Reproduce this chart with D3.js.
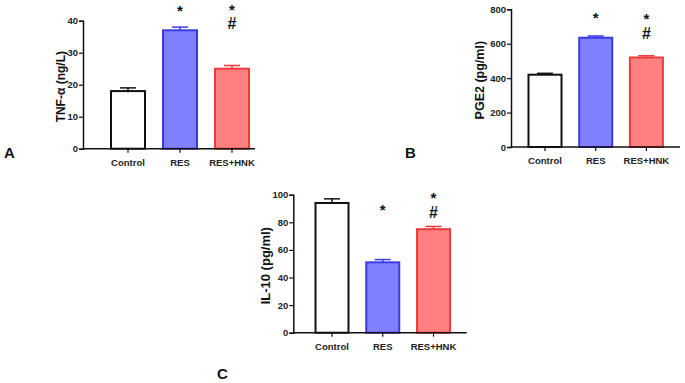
<!DOCTYPE html>
<html>
<head>
<meta charset="utf-8">
<script src="https://cdn.jsdelivr.net/npm/d3@7"></script>
<style>
  html, body { margin: 0; padding: 0; background: #fff; }
  svg { display: block; font-family: "Liberation Sans", Arial, sans-serif; font-weight: bold; }
</style>
</head>
<body>
<svg id="chart" width="685" height="383"></svg>
<script>
// ---------- data ----------
const categories = ["Control", "RES", "RES+HNK"];

const tnfValues = [18, 37, 25];
const tnfErrors = [1, 1, 1];
const tnfTicks = [0, 10, 20, 30, 40];

const pgeValues = [420, 635, 520];
const pgeErrors = [8, 10, 10];
const pgeTicks = [0, 200, 400, 600, 800];

const il10Values = [94, 51, 75];
const il10Errors = [3, 2, 2];
const il10Ticks = [0, 20, 40, 60, 80, 100];

const tnfMarks = [[], ["*"], ["*", "#"]];
const pgeMarks = [[], ["*"], ["*", "#"]];
const il10Marks = [[], ["*"], ["*", "#"]];

// ---------- styles ----------
const fills = ["#ffffff", "#8080ff", "#ff8080"];
const strokes = ["#111111", "#3a3ae6", "#ec3b3b"];
const FONT = "'Liberation Sans', Arial, sans-serif";

const svg = d3.select("#chart");

function panel(cfg) {
  const g = svg.append("g");
  const y = d3.scaleLinear().domain([cfg.ticks[0], cfg.ticks[cfg.ticks.length - 1]])
    .range([cfg.y0, cfg.yTop]);
  const pIn = 1 - cfg.bw / cfg.step;
  const x = d3.scaleBand().domain(categories)
    .range([cfg.c0 - cfg.step / 2, cfg.c0 + 2.5 * cfg.step])
    .paddingInner(pIn).paddingOuter(pIn / 2);

  // bars
  g.selectAll("rect.bar").data(cfg.values).join("rect")
    .attr("x", (d, i) => x(categories[i]))
    .attr("y", d => y(d))
    .attr("width", x.bandwidth())
    .attr("height", d => y(0) - y(d))
    .attr("fill", (d, i) => fills[i])
    .attr("stroke", (d, i) => strokes[i])
    .attr("stroke-width", 2);

  // error bars (upper only)
  const capW = 16;
  cfg.values.forEach((v, i) => {
    const cx = x(categories[i]) + x.bandwidth() / 2;
    g.append("line").attr("x1", cx).attr("x2", cx)
      .attr("y1", y(v)).attr("y2", y(v + cfg.errors[i]))
      .attr("stroke", strokes[i]).attr("stroke-width", 1.5);
    g.append("line").attr("x1", cx - capW / 2).attr("x2", cx + capW / 2)
      .attr("y1", y(v + cfg.errors[i])).attr("y2", y(v + cfg.errors[i]))
      .attr("stroke", strokes[i]).attr("stroke-width", 1.5);
  });

  // y axis
  const ya = g.append("g").attr("transform", `translate(${cfg.axisX},0)`)
    .call(d3.axisLeft(y).tickValues(cfg.ticks).tickSize(4).tickPadding(1).tickFormat(d3.format("d")));
  ya.select(".domain").attr("stroke", "#111").attr("stroke-width", 1.5);
  ya.selectAll(".tick line").attr("stroke", "#111").attr("stroke-width", 1.2);
  ya.selectAll(".tick text").attr("fill", "#222").style("font-size", "9.5px")
    .style("font-family", FONT).style("font-weight", "bold");

  // x axis
  const xa = g.append("g").attr("transform", `translate(0,${cfg.y0})`)
    .call(d3.axisBottom(x).tickSize(4).tickPadding(0));
  xa.select(".domain").remove();
  xa.selectAll(".tick line").attr("stroke", "#111").attr("stroke-width", 1.2);
  xa.selectAll(".tick text").attr("fill", "#222").attr("y", 17).attr("dy", 0)
    .style("font-size", "9.5px")
    .style("font-family", FONT).style("font-weight", "bold");
  g.append("line").attr("x1", cfg.axisX).attr("x2", cfg.axisEnd)
    .attr("y1", cfg.y0).attr("y2", cfg.y0)
    .attr("stroke", "#111").attr("stroke-width", 1.5);

  // y label
  g.append("text")
    .attr("transform", `translate(${cfg.labelX},${(cfg.y0 + cfg.yTop) / 2 + 2}) rotate(-90)`)
    .attr("text-anchor", "middle")
    .style("font-size", cfg.labelSize + "px")
    .attr("fill", "#111")
    .text(cfg.label);

  // significance marks (stacked in one text element)
  cfg.marks.forEach((m, i) => {
    if (!m.length) return;
    const cx = x(categories[i]) + x.bandwidth() / 2;
    const t = g.append("text").attr("text-anchor", "middle").attr("fill", "#111");
    m.forEach((s, j) => {
      t.append("tspan").attr("x", cx).attr("y", cfg.markY[i][j])
        .style("font-size", s === "*" ? "15px" : "16px")
        .text(s);
    });
  });

  // panel letter
  g.append("text").attr("x", cfg.letterX).attr("y", cfg.letterY)
    .style("font-size", "15px").attr("fill", "#111").text(cfg.letter);
}

panel({
  values: tnfValues, errors: tnfErrors, ticks: tnfTicks, marks: tnfMarks,
  label: "TNF-α (ng/L)", letter: "A",
  axisX: 83, axisEnd: 255, y0: 148.7, yTop: 20.7,
  c0: 128, step: 52, bw: 34, labelX: 65, labelSize: 12,
  markY: [[], [15.5], [15, 28.5]], letterX: 4, letterY: 158
});

panel({
  values: pgeValues, errors: pgeErrors, ticks: pgeTicks, marks: pgeMarks,
  label: "PGE2 (pg/ml)", letter: "B",
  axisX: 511, axisEnd: 680, y0: 147, yTop: 9.3,
  c0: 545, step: 50.7, bw: 33, labelX: 484, labelSize: 12.5,
  markY: [[], [23], [24, 38.5]], letterX: 405, letterY: 158
});

panel({
  values: il10Values, errors: il10Errors, ticks: il10Ticks, marks: il10Marks,
  label: "IL-10 (pg/ml)", letter: "C",
  axisX: 293.3, axisEnd: 466.7, y0: 332.7, yTop: 194.7,
  c0: 332, step: 50.75, bw: 33, labelX: 270, labelSize: 13,
  markY: [[], [214.5], [203, 217.5]], letterX: 217, letterY: 379
});
</script>
</body>
</html>
